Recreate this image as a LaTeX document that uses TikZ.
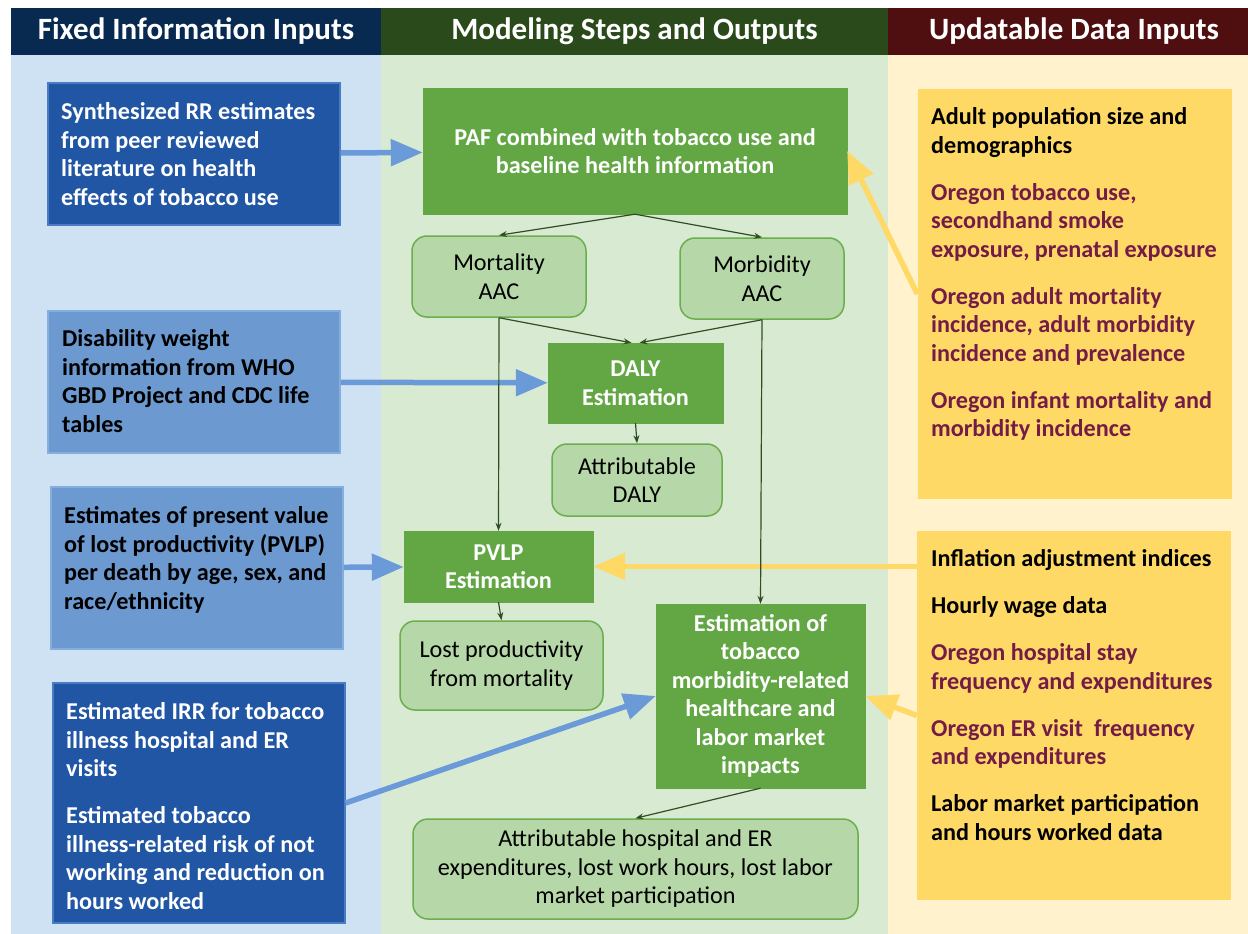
\documentclass[tikz,border=0pt]{standalone}
\usepackage{fontspec}
\setmainfont{Carlito}
\usetikzlibrary{arrows.meta}
\definecolor{hdrblue}{HTML}{082A50}
\definecolor{hdrgreen}{HTML}{2A4A1B}
\definecolor{hdrred}{HTML}{4F0F10}
\definecolor{colblue}{HTML}{CFE2F3}
\definecolor{colgreen}{HTML}{D9EAD3}
\definecolor{colyellow}{HTML}{FFF2CC}
\definecolor{darkbox}{HTML}{2156A5}
\definecolor{darkboxline}{HTML}{4A7BC4}
\definecolor{medbox}{HTML}{6C9AD0}
\definecolor{medboxline}{HTML}{86AEDD}
\definecolor{gfill}{HTML}{62A744}
\definecolor{lgfill}{HTML}{B6D7A8}
\definecolor{gborder}{HTML}{6AAE4E}
\definecolor{yboxfill}{HTML}{FFD966}
\definecolor{maroontxt}{HTML}{741B47}
\definecolor{bluearrow}{HTML}{6A9BD8}
\definecolor{yarrow}{HTML}{FFD966}
\definecolor{thinline}{HTML}{2F4F22}
\newcommand{\bodyfont}{\fontsize{24.2}{28.5}\selectfont}
\begin{document}
\begin{tikzpicture}[x=1pt,y=-1pt,
  hdr/.style={text=white, font=\fontsize{31}{36}\selectfont\bfseries, minimum height=47, inner sep=0},
  dbox/.style={fill=darkbox, draw=darkboxline, line width=1.2, minimum width=292, inner sep=0},
  mbox/.style={fill=medbox, draw=medboxline, line width=1.2, minimum width=292, inner sep=0},
  wtxt/.style={anchor=north west, align=left, inner sep=0, text=white, font=\bodyfont\bfseries},
  ktxt/.style={anchor=north west, align=left, inner sep=0, text=black, font=\bodyfont\bfseries},
  gbox/.style={fill=gfill, draw=gfill, text=white, align=center, inner sep=0, font=\bodyfont\bfseries},
  lgbox/.style={fill=lgfill, draw=gborder, line width=1.5, rounded corners=15, text=black, align=center, inner sep=0, font=\bodyfont},
  ybox/.style={fill=yboxfill, inner sep=0, minimum width=314},
  barrow/.style={draw=bluearrow, line width=5.5, -{Triangle[length=32pt,width=26pt]}},
  yarrowst/.style={draw=yarrow, line width=5.5, -{Triangle[length=32pt,width=26pt]}},
  tarrow/.style={draw=thinline, line width=1.2, -{Stealth[length=8pt,width=6pt]}}
]
\useasboundingbox (0,0) rectangle (1248,934);
\fill[white] (0,0) rectangle (1248,934);
\fill[colblue] (11,55) rectangle (381,934);
\fill[colgreen] (381,55) rectangle (888,934);
\fill[colyellow] (888,55) rectangle (1248,934);
% headers
\node[hdr, fill=hdrblue, minimum width=370] (h1) at (196,31.5) {Fixed Information Inputs};
\node[hdr, fill=hdrgreen, minimum width=507] (h2) at (634.5,31.5) {Modeling Steps and Outputs};
\node[hdr, fill=hdrred, minimum width=372] (h3) at (1074,31.5) {Updatable Data Inputs};
% left boxes
\node[dbox, minimum height=142] (b1) at (194,154) {};
\node[wtxt] (b1t) at (61,102.5) {Synthesized RR estimates\\from peer reviewed\\literature on health\\effects of tobacco use};
\node[mbox, minimum height=142] (b2) at (194,382) {};
\node[ktxt] (b2t) at (62,329.5) {Disability weight\\information from WHO\\GBD Project and CDC life\\tables};
\node[mbox, minimum height=162] (b3) at (197,568) {};
\node[ktxt] (b3t) at (64,506.5) {Estimates of present value\\of lost productivity (PVLP)\\per death by age, sex, and\\race/ethnicity};
\node[dbox, minimum height=240] (b4) at (199,803) {};
\node[wtxt] (b4t) at (66,702.5) {Estimated IRR for tobacco\\illness hospital and ER\\visits\\[18.5pt]Estimated tobacco\\illness-related risk of not\\working and reduction on\\hours worked};
% middle
\node[gbox, minimum width=424, minimum height=126] (paf) at (635,151) {PAF combined with tobacco use and\\baseline health information};
\node[lgbox, minimum width=174, minimum height=81] (mort) at (499,276.5) {Mortality\\AAC};
\node[lgbox, minimum width=164, minimum height=81] (morb) at (762,278.5) {Morbidity\\AAC};
\node[gbox, minimum width=175, minimum height=80] (daly) at (635.5,383) {DALY\\Estimation};
\node[lgbox, minimum width=170, minimum height=72] (adaly) at (637,480) {Attributable\\DALY};
\node[gbox, minimum width=189, minimum height=71] (pvlp) at (498.5,566.5) {PVLP\\Estimation};
\node[lgbox, minimum width=203, minimum height=89] (lost) at (501.5,665.5) {Lost productivity\\from mortality};
\node[gbox, minimum width=209, minimum height=184] (est) at (760.5,696) {Estimation of\\tobacco\\morbidity-related\\healthcare and\\labor market\\impacts};
\node[lgbox, minimum width=445, minimum height=100] (ahosp) at (635.5,869) {Attributable hospital and ER\\expenditures, lost work hours, lost labor\\market participation};
% right boxes
\node[ybox, minimum height=410] (y1) at (1074.5,294) {};
\node[ktxt] (y1t) at (931,107.5) {Adult population size and\\demographics\\[18.5pt]
  \textcolor{maroontxt}{Oregon tobacco use,}\\\textcolor{maroontxt}{secondhand smoke}\\\textcolor{maroontxt}{exposure, prenatal exposure}\\[18.5pt]
  \textcolor{maroontxt}{Oregon adult mortality}\\\textcolor{maroontxt}{incidence, adult morbidity}\\\textcolor{maroontxt}{incidence and prevalence}\\[18.5pt]
  \textcolor{maroontxt}{Oregon infant mortality and}\\\textcolor{maroontxt}{morbidity incidence}};
\node[ybox, minimum height=369] (y2) at (1074,715.5) {};
\node[ktxt] (y2t) at (931,549.5) {Inflation adjustment indices\\[18.5pt]
  Hourly wage data\\[18.5pt]
  \textcolor{maroontxt}{Oregon hospital stay}\\\textcolor{maroontxt}{frequency and expenditures}\\[18.5pt]
  \textcolor{maroontxt}{Oregon ER visit\ \ frequency}\\\textcolor{maroontxt}{and expenditures}\\[18.5pt]
  Labor market participation\\and hours worked data};
% thick arrows
\draw[barrow] (b1) -- (paf);
\draw[barrow] (b2) -- (daly);
\draw[barrow] (b3) -- (pvlp);
\draw[barrow] (b4.east) -- (est.west);
\draw[yarrowst] (y1.west) -- (paf.east);
\draw[yarrowst] (pvlp.east -| y2.west) -- (pvlp.east);
\draw[yarrowst] (y2.west) -- (est.east);
% thin arrows
\draw[tarrow] (paf.south) -- (mort.north);
\draw[tarrow] (paf.south) -- (morb.north);
\draw[tarrow] (mort.south) -- ([xshift=-4pt]daly.north);
\draw[tarrow] (morb.south) -- ([xshift=4pt]daly.north);
\draw[tarrow] (mort.south) -- (pvlp.north);
\draw[tarrow] (morb.south) -- (est.north);
\draw[tarrow] (daly.south) -- (adaly.north);
\draw[tarrow] (pvlp.south) -- (lost.north);
\draw[tarrow] (est.south) -- (ahosp.north);
\end{tikzpicture}
\end{document}
